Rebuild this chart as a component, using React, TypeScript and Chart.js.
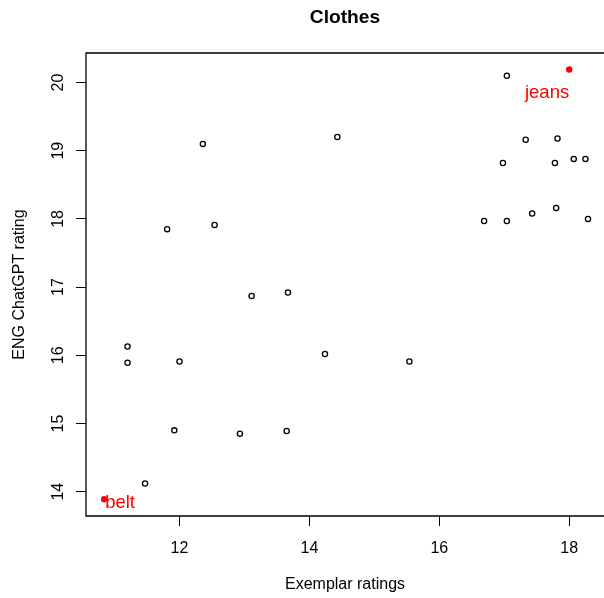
import { useEffect, useRef } from 'react';
import { Chart, registerables } from 'chart.js';

Chart.register(...registerables);

const chartTitle = 'Clothes';
const xAxisTitle = 'Exemplar ratings';
const yAxisTitle = 'ENG ChatGPT rating';

const xTickValues = [12, 14, 16, 18];
const yTickValues = [14, 15, 16, 17, 18, 19, 20];

const exemplarRatings = [
  11.2, 11.2, 12.0, 11.92, 11.47, 12.36, 11.81, 12.54, 14.43, 13.11, 13.67, 14.24, 15.54, 12.93,
  13.65, 17.04, 17.33, 17.82, 16.98, 17.78, 18.07, 18.25, 16.69, 17.04, 17.43, 17.8, 18.29,
];
const chatgptRatings = [
  16.13, 15.89, 15.91, 14.9, 14.12, 19.1, 17.85, 17.91, 19.2, 16.87, 16.92, 16.02, 15.91, 14.85,
  14.89, 20.1, 19.16, 19.18, 18.82, 18.82, 18.88, 18.88, 17.97, 17.97, 18.08, 18.16, 18.0,
];

const labelledWords = ['jeans', 'belt'];
const labelledExemplar = [18.0, 10.84];
const labelledChatgpt = [20.19, 13.89];

// text placement of the word labels relative to their points (style only)
const labelPlacement: { align: CanvasTextAlign; dx: number; dy: number }[] = [
  { align: 'right', dx: 0, dy: 28 },
  { align: 'left', dx: 1, dy: 9 },
];

const FONT = '"Liberation Sans", Arial, Helvetica, sans-serif';

const overlayPlugin = {
  id: 'rOverlay',
  afterDraw(chart: any) {
    const { ctx, chartArea } = chart;
    const xs = chart.scales.x;
    const ys = chart.scales.y;
    const { left, top, right, bottom } = chartArea;
    ctx.save();
    // frame (right side falls outside the canvas)
    ctx.strokeStyle = '#000';
    ctx.lineWidth = 1.3;
    ctx.beginPath();
    ctx.moveTo(right + 10, top);
    ctx.lineTo(left, top);
    ctx.lineTo(left, bottom);
    ctx.lineTo(right + 10, bottom);
    ctx.stroke();

    ctx.fillStyle = '#000';
    ctx.font = `16px ${FONT}`;
    // x tick labels
    ctx.textAlign = 'center';
    ctx.textBaseline = 'alphabetic';
    xTickValues.forEach((v) => {
      ctx.fillText(String(v), xs.getPixelForValue(v), bottom + 36.5);
    });
    // y tick labels (rotated)
    yTickValues.forEach((v) => {
      ctx.save();
      ctx.translate(left - 23.5, ys.getPixelForValue(v));
      ctx.rotate(-Math.PI / 2);
      ctx.fillText(String(v), 0, 0);
      ctx.restore();
    });
    // axis titles
    ctx.fillText(xAxisTitle, (left + right) / 2, bottom + 73);
    ctx.save();
    ctx.translate(left - 62, (top + bottom) / 2);
    ctx.rotate(-Math.PI / 2);
    ctx.fillText(yAxisTitle, 0, 0);
    ctx.restore();
    // main title
    ctx.font = `bold 19.2px ${FONT}`;
    ctx.fillText(chartTitle, (left + right) / 2, top - 30);

    // word labels
    const meta = chart.getDatasetMeta(1);
    ctx.font = `18.5px ${FONT}`;
    ctx.fillStyle = '#ff0000';
    labelledWords.forEach((w, i) => {
      const el = meta.data[i];
      const p = labelPlacement[i];
      ctx.textAlign = p.align;
      ctx.fillText(w, el.x + p.dx, el.y + p.dy);
    });
    ctx.restore();
  },
};

export default function App() {
  const ref = useRef<HTMLCanvasElement | null>(null);
  useEffect(() => {
    if (!ref.current) return;
    const chart = new Chart(ref.current, {
      type: 'scatter',
      data: {
        datasets: [
          {
            data: exemplarRatings.map((x, i) => ({ x, y: chatgptRatings[i] })),
            pointRadius: 2.6,
            pointBorderWidth: 1.3,
            pointBorderColor: '#000',
            pointBackgroundColor: 'rgba(0,0,0,0)',
            pointHoverRadius: 2.6,
          },
          {
            data: labelledExemplar.map((x, i) => ({ x, y: labelledChatgpt[i] })),
            pointRadius: 3.2,
            pointBorderWidth: 0,
            pointBackgroundColor: '#ff0000',
            pointBorderColor: '#ff0000',
          },
        ],
      },
      options: {
        animation: false,
        responsive: false,
        events: [],
        layout: { padding: { top: 53, left: 0, right: 0, bottom: 0 }, autoPadding: false },
        plugins: {
          legend: { display: false },
          title: { display: false },
          tooltip: { enabled: false },
        },
        scales: {
          x: {
            type: 'linear',
            min: 10.5604,
            max: 18.536,
            afterBuildTicks: (s: any) => {
              s.ticks = xTickValues.map((value) => ({ value }));
            },
            afterFit: (s: any) => {
              s.height = 82;
            },
            ticks: { display: false },
            border: { display: false },
            grid: {
              display: true,
              drawOnChartArea: false,
              drawTicks: true,
              tickLength: 10,
              color: '#000',
              lineWidth: 1,
            },
          },
          y: {
            type: 'linear',
            min: 13.644,
            max: 20.4326,
            afterBuildTicks: (s: any) => {
              s.ticks = yTickValues.map((value) => ({ value }));
            },
            afterFit: (s: any) => {
              s.width = 86;
            },
            ticks: { display: false },
            border: { display: false },
            grid: {
              display: true,
              drawOnChartArea: false,
              drawTicks: true,
              tickLength: 10,
              color: '#000',
              lineWidth: 1,
            },
          },
        },
      },
      plugins: [overlayPlugin],
    });
    return () => chart.destroy();
  }, []);
  return (
    <canvas
      ref={ref}
      width={604}
      height={598}
      style={{ position: 'absolute', left: 0, top: 0, width: 604, height: 598 }}
    />
  );
}
